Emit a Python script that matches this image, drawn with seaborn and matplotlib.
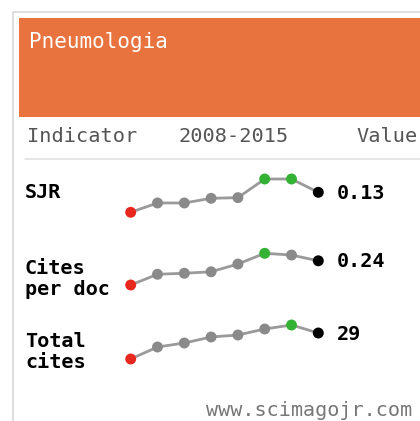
import matplotlib
matplotlib.use("Agg")
import matplotlib.pyplot as plt
import seaborn as sns
import pandas as pd
from matplotlib.patches import Rectangle

sns.set_theme(style="white")
plt.rcParams['font.family'] = ['DejaVu Sans Mono', 'DejaVu Sans']

# ---- data ----
title = "Pneumologia"
header = ["Indicator", "2008-2015", "Value"]
years = [2008, 2009, 2010, 2011, 2012, 2013, 2014, 2015]
indicators = ["SJR", "Cites\nper doc", "Total\ncites"]
sjr = [0.100, 0.114, 0.114, 0.121, 0.122, 0.150, 0.150, 0.130]
cites_per_doc = [0.143, 0.186, 0.190, 0.196, 0.227, 0.270, 0.263, 0.240]
total_cites = [16, 22, 24, 27, 28, 31, 33, 29]
value_labels = ["0.13", "0.24", "29"]
footer = "www.scimagojr.com"

series = [sjr, cites_per_doc, total_cites]

# ---- styles ----
W, H = 420, 421
ORANGE = "#E8733E"
RED, GREEN, BLACK, GRAY = "#E8281E", "#33B233", "#000000", "#8A8A8A"

fig = plt.figure(figsize=(W / 100, H / 100), dpi=100)
fig.patch.set_facecolor("white")
bg = fig.add_axes([0, 0, 1, 1])
bg.set_xlim(0, W)
bg.set_ylim(H, 0)
bg.axis("off")

# frame and header
bg.add_patch(Rectangle((13, 12), 420, 420, facecolor="white", edgecolor="#D8D8D8", lw=1.2))
bg.add_patch(Rectangle((19, 18), 410, 99, facecolor=ORANGE, edgecolor="none"))
bg.text(29, 42, title, color="white", fontsize=15, va="center", ha="left")

hx = [27, 178, 356]
for x, t in zip(hx, header):
    bg.text(x, 136, t, color="#555555", fontsize=14.6, va="center", ha="left")
bg.plot([25, 420], [159, 159], color="#E2E2E2", lw=1.2)

label_y = [193, 279, 352]
for y, t in zip(label_y, indicators):
    bg.text(25, y, t, color="black", fontsize=14.5, fontweight="bold",
            va="center", ha="left", linespacing=1.15)

# sparklines
row_top = [179, 253.3, 325]
row_bot = [212.3, 285, 359]
x_left, x_right = 130.7, 318.3
for vals, top, bot, vlab in zip(series, row_top, row_bot, value_labels):
    ax = fig.add_axes([x_left / W, 1 - bot / H, (x_right - x_left) / W, (bot - top) / H])
    df = pd.DataFrame({"year": years, "value": vals})
    vmin, vmax = min(vals), max(vals)
    cols = []
    for i, v in enumerate(vals):
        if i == len(vals) - 1:
            cols.append(BLACK)
        elif v == vmax:
            cols.append(GREEN)
        elif v == vmin:
            cols.append(RED)
        else:
            cols.append(GRAY)
    df["c"] = cols
    sns.lineplot(data=df, x="year", y="value", ax=ax, color="#9A9A9A", lw=2.0, zorder=1)
    sns.scatterplot(data=df, x="year", y="value", hue="c",
                    palette={c: c for c in set(cols)}, ax=ax, s=62,
                    edgecolor="none", legend=False, zorder=2, clip_on=False)
    for coll in ax.collections:
        coll.set_clip_on(False)
    for ln in ax.lines:
        ln.set_clip_on(False)
    ax.set_xlim(years[0], years[-1])
    ax.set_ylim(vmin, vmax)
    ax.axis("off")
    yl = top + (bot - top) * (vmax - vals[-1]) / (vmax - vmin)
    bg.text(337, yl + 1, vlab, color="black", fontsize=14.5, fontweight="bold",
            va="center", ha="left")

bg.text(412, 410, footer, color="#777777", fontsize=14.5, va="center", ha="right")

fig.savefig("out.png", dpi=100, facecolor="white")
